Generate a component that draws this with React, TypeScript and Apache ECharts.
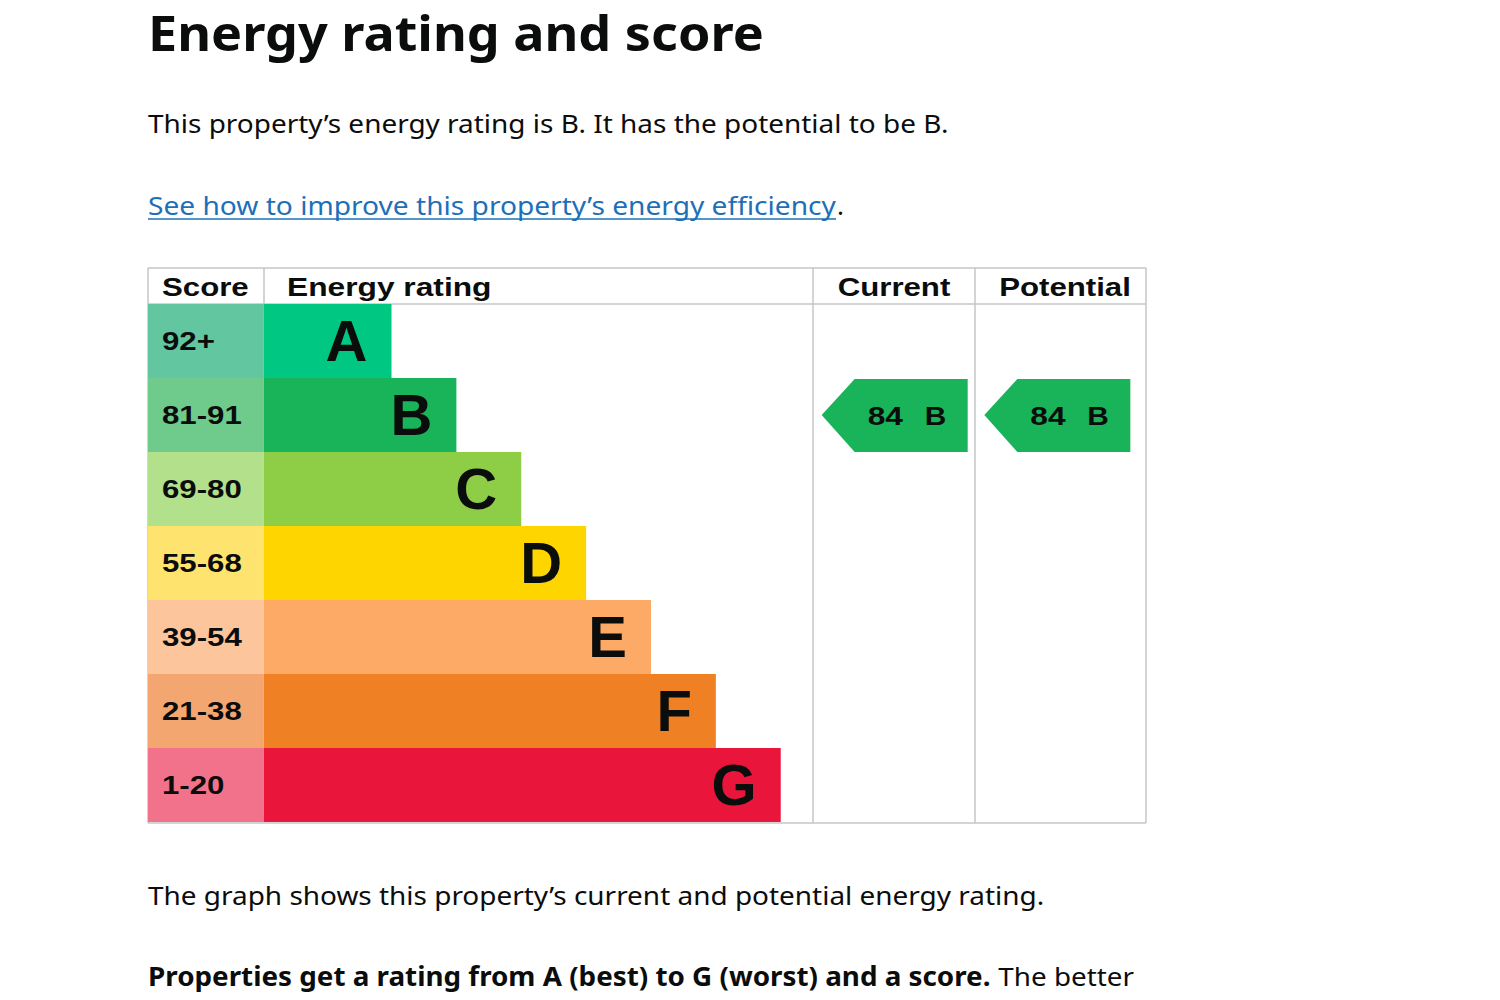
import React, { useEffect, useRef } from "react";
import * as echarts from "echarts";

// ---- Data ----
const bands = ["A", "B", "C", "D", "E", "F", "G"];
const scoreRanges = ["92+", "81-91", "69-80", "55-68", "39-54", "21-38", "1-20"];
const barColors = ["#00c781", "#19b459", "#8dce46", "#ffd500", "#fcaa65", "#ef8023", "#e9153b"];
const scoreColors = ["#62c6a0", "#6fcb8b", "#b3e08b", "#fee46f", "#fdc59c", "#f3a66f", "#f2728b"];
// bar end positions on a 0..100 table scale (score column ends at 11.6)
const barEnds = [24.4, 30.9, 37.4, 43.9, 50.4, 56.9, 63.4];
const scoreColEnd = 11.6;
const columns = ["Current", "Potential"];
const columnStarts = [66.6, 82.9];
const columnEnds = [82.9, 100];
const ratingScores = [84, 84];
const ratingBands = ["B", "B"];

const INK = "#0b0c0c";
const LINE = "#c4c6c8";
const ARIAL = "'Liberation Sans', Arial, sans-serif";
const PAGE = "'Noto Sans', sans-serif";
const PAGE_SCALE = 1.075;

export default function App() {
  const ref = useRef<HTMLDivElement>(null);
  useEffect(() => {
    const chart = echarts.init(ref.current!, null, { renderer: "svg" });

    const rowData = bands.map((b, i) => [i, barEnds[i]]);
    const arrowData = columns.map((c, i) => [
      columnStarts[i],
      columnEnds[i],
      bands.indexOf(ratingBands[i]),
      ratingScores[i],
    ]);

    const option: any = {
      animation: false,
      backgroundColor: "#ffffff",
      grid: { left: 148, top: 304, width: 998, height: 518 },
      xAxis: { type: "value", min: 0, max: 100, show: false },
      yAxis: { type: "category", data: bands, inverse: true, show: false },
      series: [
        {
          type: "custom",
          name: "ratings",
          data: rowData,
          renderItem: (params: any, api: any) => {
            const i = api.value(0);
            const end = api.value(1);
            const c = api.coord([0, i]);
            const h = api.size([0, 1])[1];
            const x0 = c[0];
            const xs = api.coord([scoreColEnd, i])[0];
            const xe = api.coord([end, i])[0];
            const top = c[1] - h / 2;
            return {
              type: "group",
              children: [
                { type: "rect", shape: { x: x0, y: top, width: xs - x0, height: h }, style: { fill: scoreColors[i] } },
                { type: "rect", shape: { x: xs, y: top, width: xe - xs, height: h }, style: { fill: barColors[i] } },
                {
                  type: "text",
                  x: x0 + 14,
                  y: c[1] + 0,
                  scaleX: 1.2,
                  style: {
                    text: scoreRanges[i],
                    fontFamily: ARIAL,
                    fontWeight: "bold",
                    fontSize: 26,
                    fill: INK,
                    align: "left",
                    verticalAlign: "middle",
                  },
                },
                {
                  type: "text",
                  x: xe - 24,
                  y: c[1] - 1,
                  style: {
                    text: bands[i],
                    fontFamily: ARIAL,
                    fontWeight: "bold",
                    fontSize: 58,
                    fill: INK,
                    align: "right",
                    verticalAlign: "middle",
                  },
                },
              ],
            };
          },
        },
        {
          type: "custom",
          name: "arrows",
          data: arrowData,
          renderItem: (params: any, api: any) => {
            const s = api.value(0);
            const bi = api.value(2);
            const score = api.value(3);
            const c = api.coord([s, bi]);
            const h = api.size([0, 1])[1];
            const xl = c[0] + 9;
            const xr = xl + 146;
            const top = c[1] - h / 2 + 1;
            const bot = c[1] + h / 2;
            const head = 33;
            return {
              type: "group",
              children: [
                {
                  type: "polygon",
                  shape: {
                    points: [
                      [xl, c[1]],
                      [xl + head, top],
                      [xr, top],
                      [xr, bot],
                      [xl + head, bot],
                    ],
                  },
                  style: { fill: barColors[bi] },
                },
                {
                  type: "text",
                  x: xl + head + 13,
                  y: c[1] + 1,
                  scaleX: 1.22,
                  style: {
                    text: String(score),
                    fontFamily: ARIAL,
                    fontWeight: "bold",
                    fontSize: 26,
                    fill: INK,
                    align: "left",
                    verticalAlign: "middle",
                  },
                },
                {
                  type: "text",
                  x: xl + head + 70,
                  y: c[1] + 1,
                  scaleX: 1.15,
                  style: {
                    text: bands[bi],
                    fontFamily: ARIAL,
                    fontWeight: "bold",
                    fontSize: 26,
                    fill: INK,
                    align: "left",
                    verticalAlign: "middle",
                  },
                },
              ],
            };
          },
        },
      ],
      graphic: [
        // page text
        { type: "text", x: 148, y: 32, scaleX: 1.064, style: { text: "Energy rating and score", fontFamily: PAGE, fontWeight: "bold", fontSize: 49, fill: INK, verticalAlign: "middle" } },
        { type: "text", x: 148, y: 123, scaleX: PAGE_SCALE, style: { text: "This property\u2019s energy rating is B. It has the potential to be B.", fontFamily: PAGE, fontSize: 26, fill: INK, verticalAlign: "middle" } },
        { type: "text", x: 148, y: 205, scaleX: 1.082, style: { text: "See how to improve this property\u2019s energy efficiency", fontFamily: PAGE, fontSize: 26, fill: "#1d70b8", verticalAlign: "middle" } },
        { type: "text", x: 837, y: 205, style: { text: ".", fontFamily: PAGE, fontSize: 26, fill: INK, verticalAlign: "middle" } },
        { type: "line", shape: { x1: 148, y1: 219, x2: 836, y2: 219 }, style: { stroke: "#1d70b8", lineWidth: 1.5 } },
        { type: "text", x: 148, y: 895, scaleX: PAGE_SCALE, style: { text: "The graph shows this property\u2019s current and potential energy rating.", fontFamily: PAGE, fontSize: 26, fill: INK, verticalAlign: "middle" } },
        {
          type: "text",
          x: 148,
          y: 976,
          scaleX: 1.07,
          style: {
            text: "{b|Properties get a rating from A (best) to G (worst) and a score.}{r| The better}",
            fontFamily: PAGE,
            fontSize: 26,
            fill: INK,
            verticalAlign: "middle",
            rich: {
              b: { fontFamily: PAGE, fontSize: 26, fontWeight: "bold", fill: INK },
              r: { fontFamily: PAGE, fontSize: 26, fill: INK },
            },
          },
        },
        // table lines
        { type: "line", shape: { x1: 148, y1: 268, x2: 1146, y2: 268 }, style: { stroke: LINE, lineWidth: 1.5 } },
        { type: "line", shape: { x1: 148, y1: 304, x2: 1146, y2: 304 }, style: { stroke: LINE, lineWidth: 1.5 } },
        { type: "line", shape: { x1: 148, y1: 823, x2: 1146, y2: 823 }, style: { stroke: LINE, lineWidth: 1.5 } },
        { type: "line", shape: { x1: 148, y1: 268, x2: 148, y2: 823 }, style: { stroke: LINE, lineWidth: 1.5 } },
        { type: "line", shape: { x1: 264, y1: 268, x2: 264, y2: 304 }, style: { stroke: LINE, lineWidth: 1.5 } },
        { type: "line", shape: { x1: 813, y1: 268, x2: 813, y2: 823 }, style: { stroke: LINE, lineWidth: 1.5 } },
        { type: "line", shape: { x1: 975, y1: 268, x2: 975, y2: 823 }, style: { stroke: LINE, lineWidth: 1.5 } },
        { type: "line", shape: { x1: 1146, y1: 268, x2: 1146, y2: 823 }, style: { stroke: LINE, lineWidth: 1.5 } },
        // headers
        { type: "text", x: 162, y: 287, scaleX: 1.2, style: { text: "Score", fontFamily: ARIAL, fontWeight: "bold", fontSize: 26, fill: INK, verticalAlign: "middle" } },
        { type: "text", x: 287, y: 287, scaleX: 1.22, style: { text: "Energy rating", fontFamily: ARIAL, fontWeight: "bold", fontSize: 26, fill: INK, verticalAlign: "middle" } },
        { type: "text", x: 894, y: 287, scaleX: 1.2, style: { text: columns[0], fontFamily: ARIAL, fontWeight: "bold", fontSize: 26, fill: INK, align: "center", verticalAlign: "middle" } },
        { type: "text", x: 1065, y: 287, scaleX: 1.2, style: { text: columns[1], fontFamily: ARIAL, fontWeight: "bold", fontSize: 26, fill: INK, align: "center", verticalAlign: "middle" } },
      ],
    };
    chart.setOption(option);
    return () => chart.dispose();
  }, []);

  return (
    <div
      ref={ref}
      style={{ position: "fixed", left: 0, top: 0, width: 1500, height: 1000 }}
    />
  );
}
